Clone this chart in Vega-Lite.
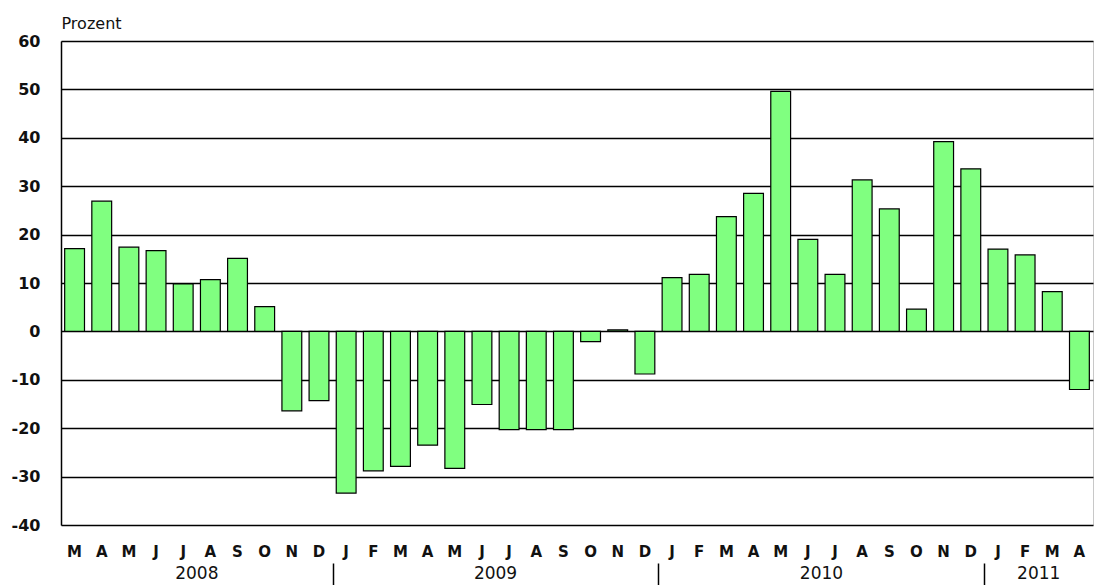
{
  "$schema": "https://vega.github.io/schema/vega-lite/v6.json",
  "width": 1032,
  "height": 484,
  "autosize": {"type": "none"},
  "padding": {"left": 61, "top": 41, "right": 1, "bottom": 60},
  "background": "white",
  "config": {
    "view": {"stroke": "#c8c8c8", "strokeWidth": 1},
    "font": "DejaVu Sans"
  },
  "data": {
    "values": [
      {"k": "2008-03", "v": 17.1}, {"k": "2008-04", "v": 26.9}, {"k": "2008-05", "v": 17.4}, {"k": "2008-06", "v": 16.7},
      {"k": "2008-07", "v": 9.8}, {"k": "2008-08", "v": 10.7}, {"k": "2008-09", "v": 15.1}, {"k": "2008-10", "v": 5.1},
      {"k": "2008-11", "v": -16.4}, {"k": "2008-12", "v": -14.3},
      {"k": "2009-01", "v": -33.4}, {"k": "2009-02", "v": -28.8}, {"k": "2009-03", "v": -27.9}, {"k": "2009-04", "v": -23.5},
      {"k": "2009-05", "v": -28.3}, {"k": "2009-06", "v": -15.1}, {"k": "2009-07", "v": -20.3}, {"k": "2009-08", "v": -20.3},
      {"k": "2009-09", "v": -20.3}, {"k": "2009-10", "v": -2.1}, {"k": "2009-11", "v": 0.3}, {"k": "2009-12", "v": -8.8},
      {"k": "2010-01", "v": 11.1}, {"k": "2010-02", "v": 11.8}, {"k": "2010-03", "v": 23.7}, {"k": "2010-04", "v": 28.5},
      {"k": "2010-05", "v": 49.6}, {"k": "2010-06", "v": 19.0}, {"k": "2010-07", "v": 11.8}, {"k": "2010-08", "v": 31.3},
      {"k": "2010-09", "v": 25.3}, {"k": "2010-10", "v": 4.6}, {"k": "2010-11", "v": 39.2}, {"k": "2010-12", "v": 33.6},
      {"k": "2011-01", "v": 17.0}, {"k": "2011-02", "v": 15.8}, {"k": "2011-03", "v": 8.2}, {"k": "2011-04", "v": -12.0}
    ]
  },
  "resolve": {"axis": {"x": "independent"}},
  "layer": [
    {
      "mark": {"type": "bar", "fillOpacity": 0, "strokeOpacity": 0},
      "encoding": {
        "x": {
          "field": "k", "type": "ordinal", "sort": null,
          "scale": {"paddingInner": 0.27, "paddingOuter": 0.135},
          "axis": {
            "title": null, "domain": false, "grid": false, "orient": "bottom",
            "values": ["2009-01", "2010-01", "2011-01"],
            "labels": false, "offset": 38, "bandPosition": 0, "tickOffset": -3.7,
            "ticks": true, "tickSize": 25, "tickColor": "#000000", "tickWidth": 1.5
          }
        },
        "y": {
          "field": "v", "type": "quantitative",
          "scale": {"domain": [-40, 60], "nice": false, "zero": false},
          "axis": {
            "values": [-40, -30, -20, -10, 0, 10, 20, 30, 40, 50, 60],
            "labelExpr": "toString(datum.value)",
            "title": "Prozent", "titleAngle": 0, "titleAlign": "left", "titleBaseline": "alphabetic",
            "titleX": 0, "titleY": -13, "titleFont": "DejaVu Sans", "titleFontSize": 16,
            "titleFontWeight": "normal", "titleColor": "#111111",
            "ticks": false, "labelPadding": 21, "labelFont": "DejaVu Sans", "labelFontSize": 16,
            "labelFontWeight": "bold", "labelColor": "#111111",
            "domain": true, "domainColor": "#000000", "domainWidth": 1.5,
            "grid": true, "gridColor": "#000000", "gridWidth": 1.3, "gridOpacity": 1
          }
        }
      }
    },
    {
      "mark": {"type": "bar", "fillOpacity": 0, "strokeOpacity": 0},
      "encoding": {
        "x": {
          "field": "k", "type": "ordinal", "sort": null,
          "axis": {
            "title": null, "domain": false, "grid": false, "orient": "bottom", "ticks": false,
            "values": ["2008-07", "2009-06", "2010-06", "2011-02"],
            "labelExpr": "slice(datum.value,0,4)",
            "offset": 38, "labelOffset": 13.6, "labelPadding": 2.7, "labelBaseline": "top",
            "labelAngle": 0, "labelOverlap": false, "labelBound": false,
            "labelFont": "DejaVu Sans", "labelFontSize": 17, "labelFontWeight": "normal", "labelColor": "#111111"
          }
        },
        "y": {"field": "v", "type": "quantitative"}
      }
    },
    {
      "mark": {"type": "bar", "fill": "#80ff80", "stroke": "#000000", "strokeWidth": 1.2},
      "encoding": {
        "x": {
          "field": "k", "type": "ordinal", "sort": null,
          "axis": {
            "title": null, "domain": false, "ticks": false, "grid": false, "orient": "bottom",
            "labelAngle": 0, "labelOverlap": false, "labelBound": false,
            "labelExpr": "['J','F','M','A','M','J','J','A','S','O','N','D'][toNumber(slice(datum.value,5,7))-1]",
            "labelFont": "DejaVu Sans", "labelFontSize": 15, "labelFontWeight": "bold",
            "labelColor": "#111111", "labelPadding": 19, "labelBaseline": "top"
          }
        },
        "y": {"field": "v", "type": "quantitative"}
      }
    }
  ]
}
